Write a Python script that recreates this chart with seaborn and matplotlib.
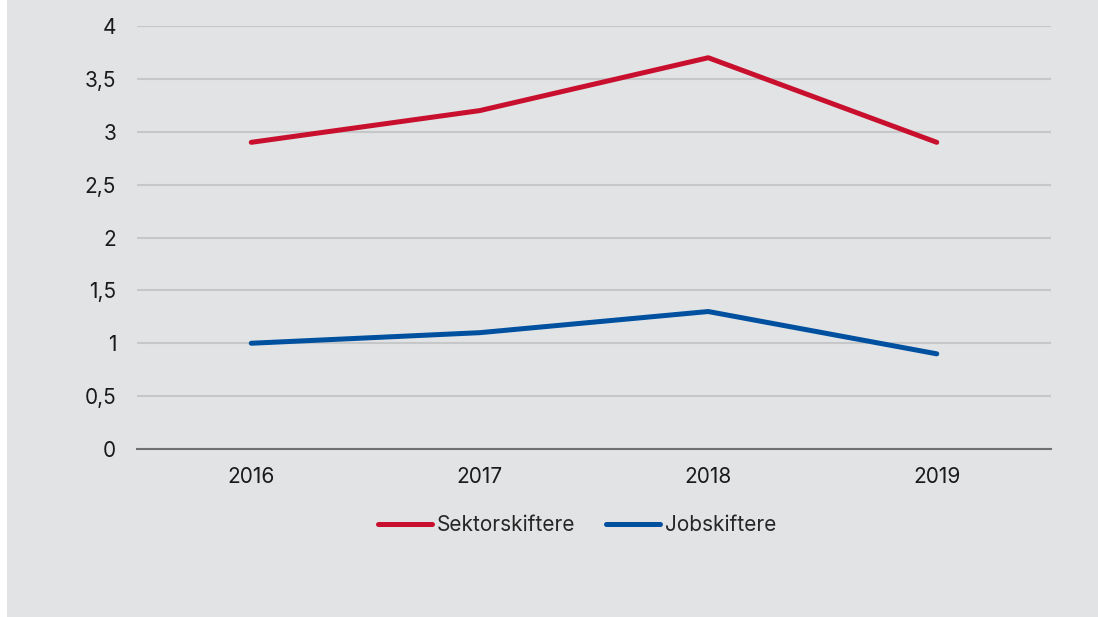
import matplotlib.pyplot as plt
import matplotlib.patches as mpatches
import pandas as pd
import seaborn as sb

years = ["2016", "2017", "2018", "2019"]
sektorskiftere = [2.9, 3.2, 3.7, 2.9]
jobskiftere = [1.0, 1.1, 1.3, 0.9]
yticks = [0, 0.5, 1, 1.5, 2, 2.5, 3, 3.5, 4]
ytick_labels = ["0", "0,5", "1", "1,5", "2", "2,5", "3", "3,5", "4"]

BG = "#e2e3e5"
sb.set_theme(style="white")
plt.rcParams["font.family"] = ["Inter", "DejaVu Sans"]

df = pd.DataFrame({
    "year": years * 2,
    "value": sektorskiftere + jobskiftere,
    "series": ["Sektorskiftere"] * 4 + ["Jobskiftere"] * 4,
})

fig = plt.figure(figsize=(10.98, 6.17), dpi=100)
fig.patch.set_facecolor("white")
fig.patches.append(mpatches.Rectangle((7 / 1098, 0), 1, 1, transform=fig.transFigure,
                                      facecolor=BG, edgecolor="none", zorder=-10))
ax = fig.add_axes([137 / 1098, 1 - 449 / 617, 914 / 1098, 423 / 617])
ax.set_facecolor(BG)

sb.lineplot(data=df, x="year", y="value", hue="series",
            palette={"Sektorskiftere": "#c8102e", "Jobskiftere": "#0050a0"},
            linewidth=3.6, ax=ax, sort=False)
for line in ax.lines:
    line.set_solid_capstyle("round")

ax.set_xlim(-0.5, 3.5)
ax.set_ylim(0, 4)
ax.set_yticks(yticks)
ax.set_yticklabels(ytick_labels)
ax.yaxis.grid(True, color="#c6c7c9", linewidth=1.5)
ax.set_axisbelow(True)
for side in ["top", "right", "left"]:
    ax.spines[side].set_visible(False)
ax.spines["bottom"].set_color("#707070")
ax.spines["bottom"].set_linewidth(1.5)
ax.tick_params(axis="both", length=0, labelsize=15, colors="#1a1a1a")
ax.tick_params(axis="y", pad=15)
ax.tick_params(axis="x", pad=13)
ax.set_xlabel("")
ax.set_ylabel("")

handles, labels = ax.get_legend_handles_labels()
for h in handles:
    h.set_solid_capstyle("round")
ax.legend(handles, labels, loc="center", bbox_to_anchor=(577 / 1098, 1 - 525 / 617),
          bbox_transform=fig.transFigure, ncol=2, frameon=False, fontsize=15,
          handlelength=2.6, handletextpad=0.2, columnspacing=1.5)

fig.savefig("out.png", dpi=100, facecolor=fig.get_facecolor())
